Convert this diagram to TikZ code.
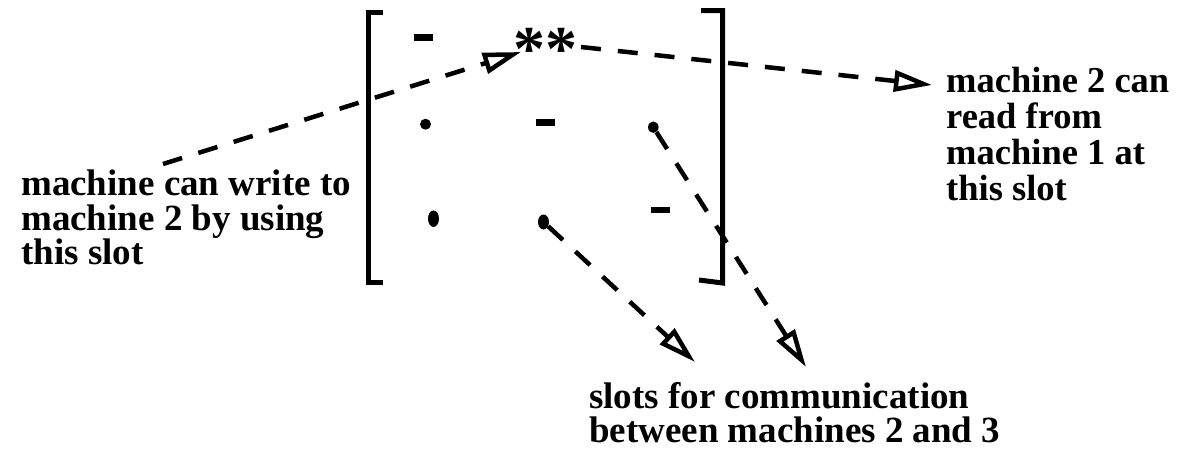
\documentclass[tikz,border=0pt]{standalone}
\usepackage{fontspec}
\setmainfont{Liberation Serif}
\usetikzlibrary{arrows.meta,shapes.geometric}
\begin{document}
\begin{tikzpicture}[x=1pt,y=-1pt,
  lbl/.style={anchor=north west, inner sep=0pt, align=left, font=\bfseries\fontsize{37}{34.5}\selectfont},
  bar/.style={rectangle, fill=black, inner sep=0pt, minimum width=19pt, minimum height=6.5pt},
  dot/.style={ellipse, fill=black, inner sep=0pt},
  conn/.style={line width=4.5pt, dash pattern=on 20pt off 17pt, -{Triangle[open,length=38pt,width=21pt]}},
  brk/.style={line width=5pt}]
\useasboundingbox (0,0) rectangle (1178,455);
% brackets
\draw[brk] (383,12.5) -- (368,12.5) -- (368,282.5) -- (383,282.5);
\draw[brk] (701,10.5) -- (722.5,10.5) -- (722.5,283) -- (699,280);
% matrix entries
\node[bar] (m11) at (423.3,37.3) {};
\node[bar] (m22) at (545.5,122.3) {};
\node[bar] (m33) at (660.5,210) {};
\node[dot, minimum width=11pt, minimum height=11pt] (d21) at (425.5,124.2) {};
\node[dot, minimum width=10.5pt, minimum height=11.5pt] (d23) at (653.3,127.2) {};
\node[dot, minimum width=11pt, minimum height=16.5pt] (d31) at (433.5,218.7) {};
\node[dot, minimum width=11pt, minimum height=15pt] (d32) at (543.5,222) {};
\node[anchor=base, inner sep=0pt, font=\bfseries\fontsize{64}{64}\selectfont] (stars) at (545,70) {**};
% labels
\node[lbl] (write) at (21,170) {machine can write to\\machine 2 by using\\this slot};
\node[lbl, font=\bfseries\fontsize{36.5}{36}\selectfont] (read) at (946,67) {machine 2 can\\read from\\machine 1 at\\this slot};
\node[lbl] (slots) at (589,382) {slots for communication\\between machines 2 and 3};
% connector ends
\coordinate (wstart) at (163,164);
\coordinate (wend) at (521,52);
\coordinate (rstart) at (581,47);
\coordinate (rend) at (932,85);
\coordinate (s1) at (695,362);
\coordinate (s2) at (806,367);
\draw[conn] (wstart) -- (wend);
\draw[conn] (rstart) -- (rend);
\draw[conn] (d32) -- (s1);
\draw[conn] (d23) -- (s2);
\end{tikzpicture}
\end{document}
